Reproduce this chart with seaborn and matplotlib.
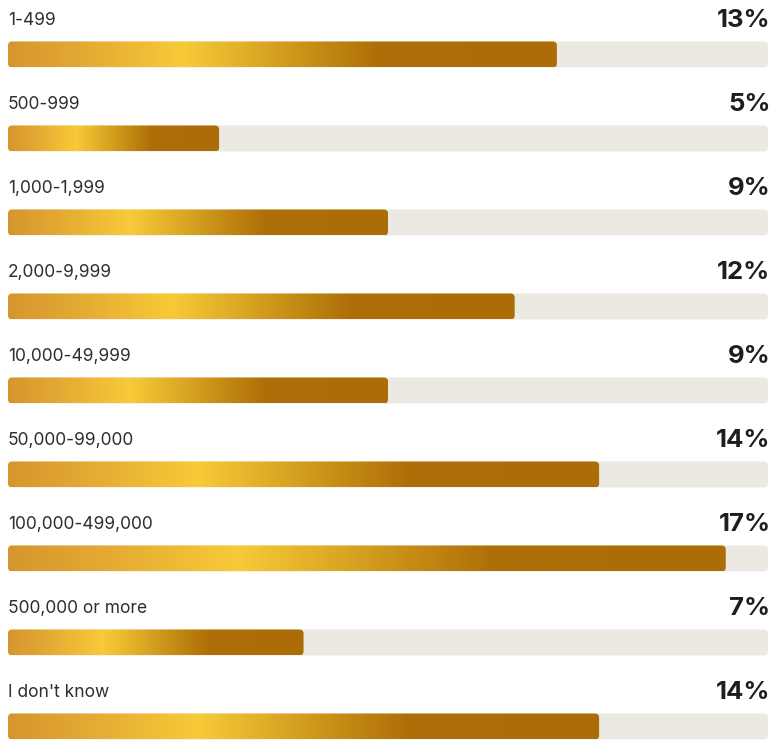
import seaborn as sns
import matplotlib.pyplot as plt
import pandas as pd
from matplotlib.colors import LinearSegmentedColormap
from matplotlib.patches import FancyBboxPatch

categories = ['1-499', '500-999', '1,000-1,999', '2,000-9,999', '10,000-49,999',
              '50,000-99,000', '100,000-499,000', '500,000 or more', "I don't know"]
shares = [13, 5, 9, 12, 9, 14, 17, 7, 14]
pct_labels = [f'{v}%' for v in shares]

x_max = 18
bar_h = 26 / 84

sns.set_style('white')
plt.rcParams['font.family'] = ['Inter', 'DejaVu Sans']

gold = LinearSegmentedColormap.from_list(
    'gold', [(0, '#D6962E'), (0.15, '#E6AC34'), (0.32, '#F8CA38'),
             (0.45, '#DDAA26'), (0.57, '#C48A14'), (0.68, '#AE6E08'),
             (1, '#AC6C08')])

fig = plt.figure(figsize=(7.7, 7.42), dpi=100)
ax = fig.add_axes([8 / 770, 0, 760 / 770, 1])

df = pd.DataFrame({'group': categories, 'share': shares})
sns.barplot(data=df, x='share', y='group', orient='h', color='#C98A1E',
            width=bar_h, ax=ax)

# swap seaborn's plain rectangles for rounded track + gradient bar
bars = list(ax.patches)
for p in bars:
    x0, y0, w, h = p.get_x(), p.get_y(), p.get_width(), p.get_height()
    p.remove()
    track = FancyBboxPatch((0, y0), x_max, h, boxstyle='round,pad=0,rounding_size=0.1',
                           mutation_aspect=0.5, fc='#ECE9E3', ec='none', zorder=1)
    ax.add_patch(track)
    shape = FancyBboxPatch((x0, y0), w, h, boxstyle='round,pad=0,rounding_size=0.1',
                           mutation_aspect=0.5, fc='none', ec='none', zorder=2)
    ax.add_patch(shape)
    img = ax.imshow([[i / 255 for i in range(256)]], cmap=gold, aspect='auto',
                    extent=(x0, x0 + w, y0 + h, y0), zorder=2, interpolation='bilinear')
    img.set_clip_path(shape)

for i, (cat, pct) in enumerate(zip(categories, pct_labels)):
    ax.text(0, i - 0.41, cat, ha='left', va='center', fontsize=12.5, color='#2E2E2E')
    ax.text(x_max + 0.06, i - 0.41, pct, ha='right', va='center', fontsize=18.5,
            fontweight='bold', color='#1E1E1E')

ax.set_xlim(0, x_max)
ax.set_ylim((742 - 54.5) / 84, -54.5 / 84)
ax.axis('off')

fig.savefig('out.png', dpi=100, facecolor='white')
